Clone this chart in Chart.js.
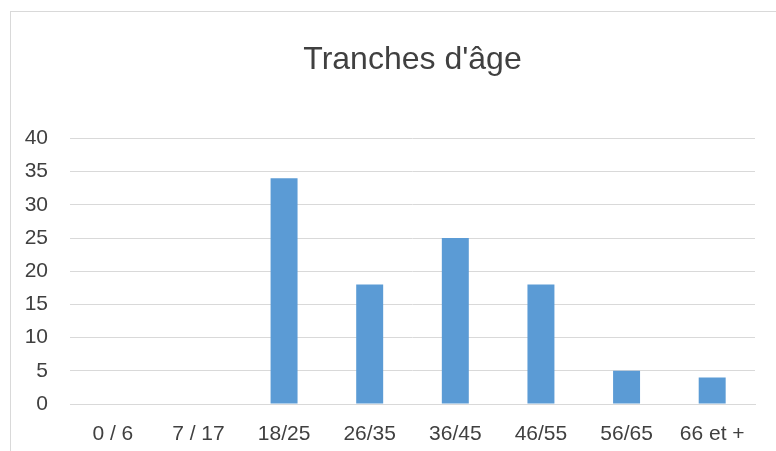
<!DOCTYPE html>
<html>
<head>
<meta charset="utf-8">
<script src="https://cdn.jsdelivr.net/npm/chart.js@4"></script>
<style>
  html, body { margin: 0; padding: 0; background: #fff; overflow: hidden; width: 776px; height: 451px; }
  #frame {
    position: absolute; left: 10px; top: 11px; width: 780px; height: 460px;
    border-left: 1px solid #d9d9d9; border-top: 1px solid #d9d9d9;
  }
  #wrap { position: absolute; left: 0; top: 0; width: 776px; height: 451px; }
</style>
</head>
<body>
<div id="frame"></div>
<div id="wrap"><canvas id="chart"></canvas></div>
<script>
// ── Data ────────────────────────────────────────────────────
const categories = ["0 / 6", "7 / 17", "18/25", "26/35", "36/45", "46/55", "56/65", "66 et +"];
const counts = [0, 0, 34, 18, 25, 18, 5, 4];
const yTicks = [0, 5, 10, 15, 20, 25, 30, 35, 40];

const FONT = "'Liberation Sans', Arial, sans-serif";
const TEXT = "#404040";

new Chart(document.getElementById("chart"), {
  type: "bar",
  data: {
    labels: categories,
    datasets: [{ data: counts, backgroundColor: "#5b9bd5", borderWidth: 0 }],
  },
  options: {
    responsive: true,
    maintainAspectRatio: false,
    animation: false,
    layout: { padding: { left: 0, right: 21, top: 0, bottom: 0 } },
    plugins: {
      legend: { display: false },
      tooltip: { enabled: false },
      title: {
        display: true,
        // not full width: centred over the plot area like the original
        fullSize: false,
        text: "Tranches d'âge",
        color: TEXT,
        font: { family: FONT, size: 32, weight: "normal" },
        padding: { top: 41, bottom: 59 },
      },
    },
    datasets: { bar: { categoryPercentage: 1, barPercentage: 0.315 } },
    scales: {
      x: {
        grid: { display: false, drawTicks: false },
        border: { color: "#d9d9d9" },
        ticks: { color: TEXT, font: { family: FONT, size: 21 }, padding: 18, maxRotation: 0 },
        afterFit: (s) => { s.height = 47; },
      },
      y: {
        min: 0,
        max: 40,
        afterBuildTicks: (s) => { s.ticks = yTicks.map((v) => ({ value: v })); },
        grid: { color: "#d9d9d9", drawTicks: false },
        border: { display: false },
        ticks: { color: TEXT, font: { family: FONT, size: 21 }, padding: 22 },
        afterFit: (s) => { s.width = 70; },
      },
    },
  },
});
</script>
</body>
</html>
